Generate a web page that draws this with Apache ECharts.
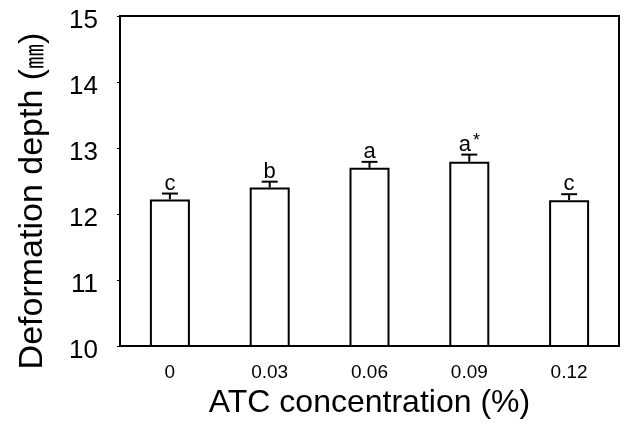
<!DOCTYPE html>
<html>
<head>
<meta charset="utf-8">
<script src="https://cdn.jsdelivr.net/npm/echarts@6/dist/echarts.min.js"></script>
<style>
  html, body { margin: 0; padding: 0; background: #fff; }
  #chart { width: 628px; height: 434px; }
</style>
</head>
<body>
<div id="chart"></div>
<script>
const concentrations = ['0', '0.03', '0.06', '0.09', '0.12']
const depthMeans = [12.22, 12.40, 12.70, 12.79, 12.21]
const depthErrors = [0.09, 0.09, 0.09, 0.11, 0.09]
const groupLetters = ['c', 'b', 'a', 'a*', 'c']
const yTicks = [10, 11, 12, 13, 14, 15]

const font = 'Liberation Sans, Arial, sans-serif'
const chart = echarts.init(document.getElementById('chart'))

function errorBar(params, api) {
  const i = api.value(0)
  const base = api.coord([i, api.value(1)])
  const top = api.coord([i, api.value(1) + api.value(2)])
  const letter = groupLetters[params.dataIndex]
  const text = letter.endsWith('*') ? '{l|' + letter.slice(0, -1) + '}{s|*}' : '{l|' + letter + '}'
  const line = { stroke: '#000', lineWidth: 2 }
  return {
    type: 'group',
    children: [
      { type: 'line', shape: { x1: base[0], y1: base[1], x2: top[0], y2: top[1] }, style: line },
      { type: 'line', shape: { x1: top[0] - 8, y1: top[1], x2: top[0] + 8, y2: top[1] }, style: line },
      {
        type: 'text',
        x: top[0],
        y: top[1] + 1,
        style: {
          text,
          align: 'center',
          verticalAlign: 'bottom',
          fill: '#000',
          rich: {
            l: { fontSize: 22, fontFamily: font, lineHeight: 24, verticalAlign: 'bottom' },
            s: { fontSize: 18, fontFamily: font, lineHeight: 24, verticalAlign: 'top', padding: [0, 0, 10, 2] }
          }
        }
      }
    ]
  }
}

chart.setOption({
  animation: false,
  grid: { left: 120, right: 9, top: 16, bottom: 88, show: true, borderColor: '#000', borderWidth: 2 },
  xAxis: {
    type: 'category',
    data: concentrations,
    name: 'ATC concentration (%)',
    nameLocation: 'middle',
    nameGap: 38,
    nameTextStyle: { fontSize: 32, fontFamily: font, color: '#000' },
    axisLine: { lineStyle: { color: '#000', width: 2 } },
    axisTick: { show: false },
    axisLabel: { fontSize: 19, fontFamily: font, color: '#000', margin: 17 }
  },
  yAxis: {
    type: 'value',
    min: yTicks[0],
    max: yTicks[yTicks.length - 1],
    interval: 1,
    name: 'Deformation depth ({u|㎜})',
    nameLocation: 'middle',
    nameGap: 70,
    nameTextStyle: {
      fontSize: 34, fontFamily: font, color: '#000', padding: [0, 40, 0, 0],
      rich: { u: { fontSize: 25, fontFamily: 'Noto Sans CJK KR', color: '#000' } }
    },
    axisLine: { show: true, lineStyle: { color: '#000', width: 2 } },
    axisTick: { show: true, length: 3, lineStyle: { color: '#000' } },
    splitLine: { show: false },
    axisLabel: {
      color: '#000', margin: 22,
      formatter: '{v|{value}}',
      rich: { v: { fontSize: 26, fontFamily: font, color: '#000', padding: [10, 0, 0, 0] } }
    }
  },
  series: [
    {
      type: 'bar',
      data: depthMeans,
      barWidth: 40,
      itemStyle: { color: '#fff', borderColor: '#000', borderWidth: 2 }
    },
    {
      type: 'custom',
      renderItem: errorBar,
      data: depthMeans.map((v, i) => [i, v, depthErrors[i]]),
      z: 3
    }
  ]
})
</script>
</body>
</html>
